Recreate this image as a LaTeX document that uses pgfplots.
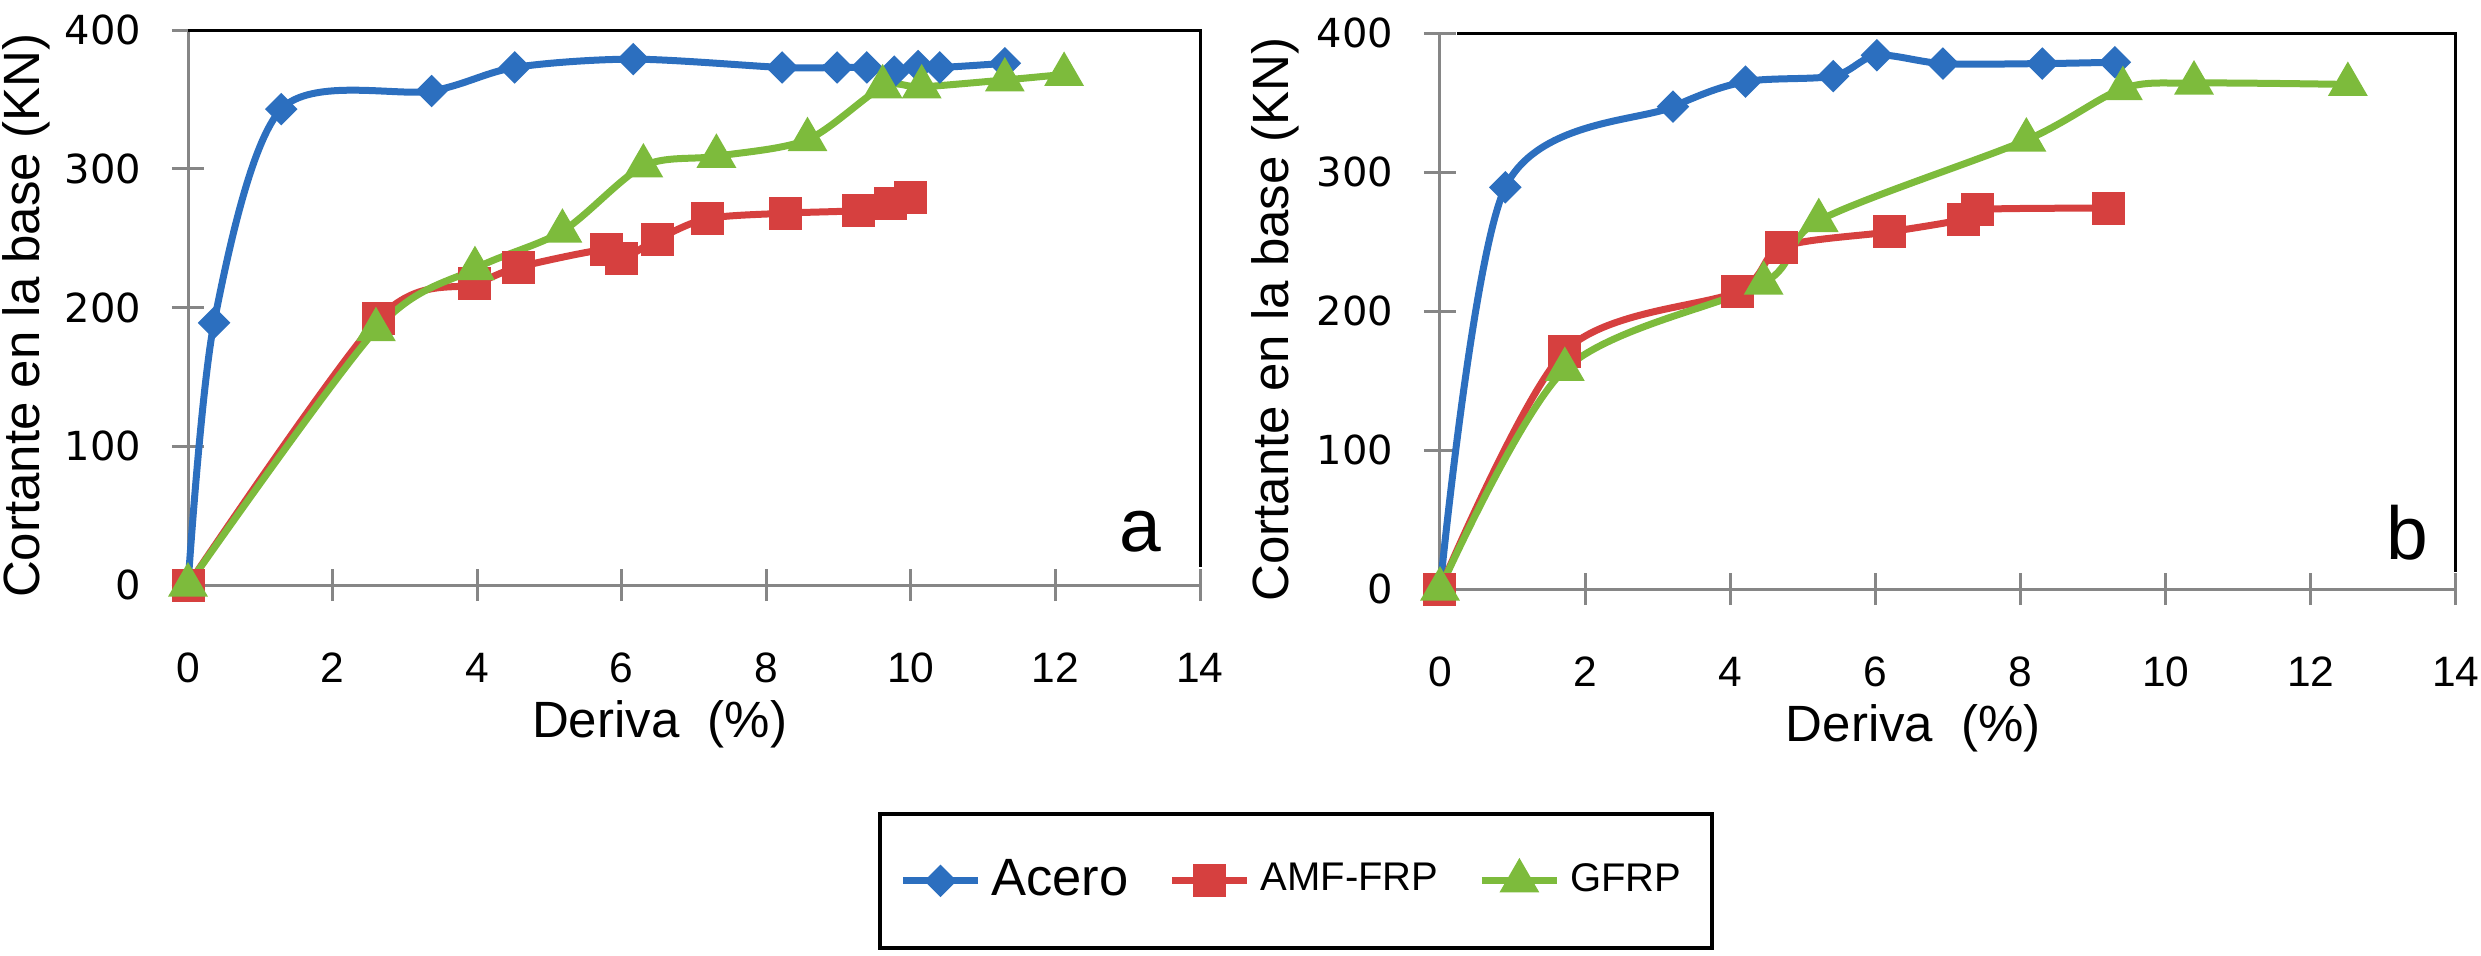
\documentclass[border=0pt]{standalone}
\usepackage{fontspec}
\setmainfont{Liberation Sans}
\newfontfamily\dejavu{DejaVu Sans}
\usepackage{pgfplots}
\pgfplotsset{compat=1.18}
\definecolor{cblue}{HTML}{2C6FBF}
\definecolor{cred}{HTML}{D6403F}
\definecolor{cgreen}{HTML}{7DBB3C}
\definecolor{axgray}{RGB}{134,134,134}

\pgfplotsset{
  myaxis/.style={
    scale only axis,
    xmin=0,xmax=14,ymin=0,ymax=400,
    xtick={0,2,...,14}, ytick={0,100,...,400},
    axis x line*=bottom, axis y line*=left,
    axis line style={axgray, line width=0.6pt, -},
    tick style={axgray, line width=0.6pt},
    tick align=center,
    major tick length=6.4pt,
    /pgf/number format/assume math mode=true,
    xticklabel style={font=\fontsize{8.5}{10}\selectfont, anchor=center, yshift=-13.4pt},
    yticklabel style={font=\dejavu\fontsize{8}{10}\selectfont, anchor=east, inner sep=0pt, xshift=-6pt},
    xlabel={Deriva\ \ (\%)},
    ylabel={Cortante en la base (KN)},
    label style={font=\fontsize{10.2}{12}\selectfont},
    xlabel style={at={(axis description cs:0.466,-0.274)}, anchor=base},
    clip=false,
    legend image code/.code={\draw[mark repeat=2,mark phase=2] plot coordinates {(0pt,0pt) (7.5pt,0pt) (15pt,0pt)};},
  },
  acero/.style={cblue, line width=1.4pt, smooth, mark=square*, mark size=1.6pt, mark options={rotate=45, solid}},
  amf/.style={cred, line width=1.4pt, smooth, mark=square*, mark size=2.6pt, mark options={solid}},
  gfrp/.style={cgreen, line width=1.4pt, smooth, mark=triangle*, mark size=3.2pt, mark options={solid}},
}

\begin{document}
\begin{tikzpicture}
\path[use as bounding box] (0,0) rectangle (496.2pt,191pt);

% ---------- (a) ----------
\begin{axis}[myaxis,
  at={(37.6pt,74pt)}, anchor=south west,
  width=202.4pt, height=111pt,
  ylabel style={at={(axis description cs:-0.160,0.485)}, anchor=center},
]
\draw[black, line width=0.6pt] (axis cs:0,400) -- (axis cs:14,400) -- (axis cs:14,13);
\addplot[acero] coordinates {(0,0) (0.36,189) (1.29,343) (3.37,356) (4.52,373) (6.16,379) (8.22,373) (8.98,373) (9.39,373) (9.77,370) (10.1,374) (10.4,373) (11.3,376)};
\addplot[amf] coordinates {(0,0) (2.64,192) (3.97,217) (4.57,229) (5.79,242) (6.0,235) (6.49,249) (7.18,264) (8.27,268) (9.28,270) (9.72,275) (9.99,279)};
\addplot[gfrp] coordinates {(0,0) (2.60,184) (3.97,228) (5.18,255) (6.30,302) (7.31,309) (8.57,321) (9.61,359) (10.15,359) (11.3,364) (12.12,368)};
\node[anchor=base, font=\fontsize{15}{18}\selectfont, inner sep=0pt] at (axis cs:13.17,23.8) {a};
\end{axis}

% ---------- (b) ----------
\begin{axis}[myaxis,
  at={(288pt,73.2pt)}, anchor=south west,
  width=203.2pt, height=111.2pt,
  ylabel style={at={(axis description cs:-0.162,0.485)}, anchor=center},
  legend columns=3,
  legend cell align=left,
  legend style={at={(axis description cs:-0.1422,-0.525)}, anchor=center,
    draw=black, line width=0.8pt, inner xsep=4pt, inner ysep=7pt,
    /tikz/every even column/.append style={column sep=6pt}},
]
\draw[black, line width=0.6pt] (axis cs:0.23,400) -- (axis cs:14,400) -- (axis cs:14,12);
\addplot[acero] coordinates {(0,0) (0.9,289) (3.21,347) (4.21,365) (5.42,369) (6.02,384) (6.93,378) (8.30,378) (9.30,379)};
\addlegendentry{\fontsize{10.5}{12}\selectfont Acero}
\addplot[amf] coordinates {(0,0) (1.72,171) (4.10,214) (4.71,246) (6.20,257) (7.21,266) (7.40,273) (9.21,274)};
\addlegendentry{\fontsize{8}{10}\selectfont AMF-FRP}
\addplot[gfrp] coordinates {(0,0) (1.72,158) (4.46,220) (5.22,265) (8.08,323) (9.41,360) (10.39,364) (12.51,363)};
\addlegendentry{\fontsize{8}{10}\selectfont GFRP}
\node[anchor=base, font=\fontsize{15}{18}\selectfont, inner sep=0pt] at (axis cs:13.33,20.9) {b};
\end{axis}
\end{tikzpicture}
\end{document}
